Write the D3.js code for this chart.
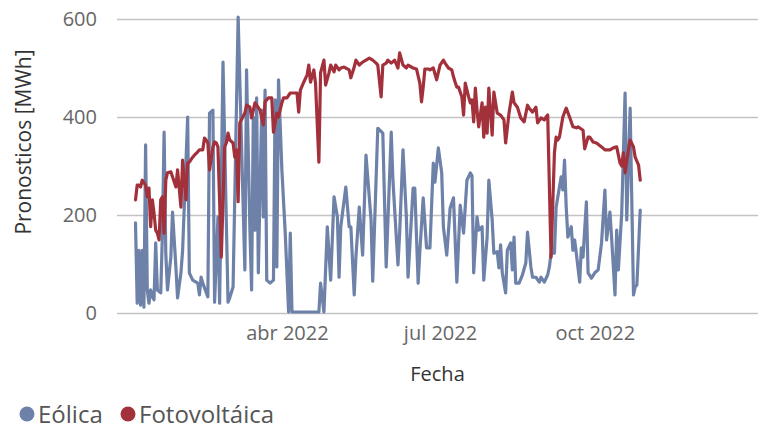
<!DOCTYPE html>
<html>
<head>
<meta charset="utf-8">
<script src="https://cdn.jsdelivr.net/npm/d3@7"></script>
<style>
  body { margin: 0; background: #fff; }
  text { font-family: "Open Sans", "Noto Sans", sans-serif; }
</style>
</head>
<body>
<script>
// dias desde el 1 ene 2022 y pronostico en MWh
var eolicaDia = [0,1,2,3,4,5,6,7,8,9,10,11,12,13,15,16,17,18,19,21,22,24,25,27,28,31,32,34,37,38,39,40,43,44,46,47,49,50,52,55,56,58,61,65,66,68,69,70,71,72,73,75,76,77,78,80,82,83,84,85,87,89,91,92,93,98,104,109,110,112,114,116,118,120,121,122,125,127,128,130,131,133,135,137,140,141,144,147,149,152,153,156,157,159,161,162,165,166,168,169,171,173,175,177,178,180,182,183,185,187,189,191,193,195,197,199,200,201,203,204,206,207,209,210,212,213,215,216,217,218,220,221,223,224,225,226,228,230,232,233,235,236,238,240,241,243,245,246,247,249,250,253,254,255,256,257,259,260,261,262,264,265,266,268,269,271,273,275,277,279,280,282,283,285,286,287,289,291,292,294,296,297,298,300];
var eolicaMWh = [184,20,128,16,128,12,343,47,20,47,33,27,143,47,41,163,369,122,47,114,206,94,31,82,128,400,82,67,61,37,73,61,33,408,414,22,196,20,512,22,31,53,604,88,496,169,47,400,169,439,82,414,196,455,67,61,67,435,94,476,292,163,2,163,2,2,2,2,61,2,176,67,237,196,73,176,257,176,176,37,114,216,118,322,190,65,377,367,94,369,271,98,163,333,196,73,255,255,61,125,235,133,133,306,267,337,286,176,118,214,235,63,220,163,271,286,280,82,196,169,176,67,155,271,190,122,125,92,139,82,41,128,143,88,155,61,61,78,102,165,94,73,73,63,73,63,78,94,122,122,216,278,251,312,216,155,176,128,149,122,63,133,114,227,82,71,82,88,143,251,149,206,153,37,169,88,204,449,190,418,37,53,57,210];

var fotoDia = [0,1,2,3,4,6,7,8,9,10,11,12,13,14,15,16,17,18,19,21,22,24,25,27,28,30,31,32,34,35,37,38,40,41,42,43,44,46,47,48,49,51,53,54,55,56,58,59,60,61,62,65,66,68,69,71,72,74,76,77,79,81,82,84,85,87,88,90,92,94,96,97,98,100,102,103,104,106,107,109,110,112,113,115,116,118,119,121,122,124,127,128,130,131,133,135,137,139,141,143,144,146,147,149,150,152,154,156,157,159,161,162,165,167,169,170,171,172,174,175,177,179,181,183,184,186,188,189,190,191,192,194,195,196,198,199,200,201,202,203,204,206,207,208,209,210,212,213,215,217,219,220,222,224,225,227,229,231,233,234,236,238,239,241,243,244,245,247,249,250,251,252,254,256,258,260,262,263,266,267,269,270,272,274,277,279,282,284,286,288,289,290,291,293,294,296,297,299,300];
var fotoMWh = [231,261,261,257,271,261,237,255,176,231,204,169,163,149,231,237,163,271,286,288,278,257,292,216,312,231,306,308,318,322,329,333,333,357,353,347,292,339,349,347,339,114,339,347,367,353,347,318,333,227,388,408,424,420,398,429,424,414,384,431,439,439,369,408,400,429,439,439,449,449,449,410,455,471,486,506,471,496,469,308,490,516,465,490,506,492,506,496,500,502,496,480,502,516,506,512,516,520,516,510,506,441,506,510,516,510,516,500,531,506,500,506,500,498,469,431,461,498,498,496,500,476,506,516,510,500,496,482,471,461,461,441,404,469,441,429,435,390,459,414,380,429,359,420,367,459,363,451,408,404,394,347,408,451,429,420,398,390,424,418,410,420,388,398,394,400,404,114,327,359,353,359,400,418,400,380,378,380,373,335,359,359,349,347,339,333,333,337,339,306,300,327,286,333,353,339,318,302,271];

var yTicks = [0, 200, 400, 600];
var xTicks = ["2022-04-01", "2022-07-01", "2022-10-01"];
var xTickLabels = ["abr 2022", "jul 2022", "oct 2022"];
var xRango = ["2021-12-21", "2023-01-06"];
var series = ["Eólica", "Fotovoltáica"];
var colores = ["#6d81a9", "#a3313c"];

var width = 768;
var height = 433;
var margin = { top: 19, left: 117, right: 10, bottom: 120 };

var parse = d3.timeParse("%Y-%m-%d");
var inicio = new Date(2022, 0, 1);

var svg = d3.select("body")
  .append("svg")
  .attr("width", width)
  .attr("height", height);

var xScale = d3.scaleTime()
  .domain(xRango.map(parse))
  .range([margin.left, width - margin.right]);

var yScale = d3.scaleLinear()
  .domain([0, 600])
  .range([height - margin.bottom, margin.top]);

// lineas de cuadricula horizontales con etiquetas
var yAxis = svg.append("g")
  .attr("transform", `translate(${margin.left},0)`)
  .call(d3.axisLeft(yScale).tickValues(yTicks)
    .tickSize(-(width - margin.left - margin.right)).tickPadding(20));
yAxis.select(".domain").remove();
yAxis.selectAll(".tick line").attr("stroke", "#c3c3c3").attr("stroke-width", 1.5);
yAxis.selectAll(".tick text").attr("fill", "#666").style("font-size", "20px");

var xAxis = svg.append("g")
  .attr("transform", `translate(0,${height - margin.bottom})`)
  .call(d3.axisBottom(xScale).tickValues(xTicks.map(parse))
    .tickSize(0).tickPadding(13)
    .tickFormat(function(d, i) { return xTickLabels[i]; }));
xAxis.select(".domain").remove();
xAxis.selectAll(".tick text").attr("fill", "#666").style("font-size", "20px");

svg.append("text") // titulo eje x
  .attr("x", (margin.left + width - margin.right) / 2)
  .attr("y", 381)
  .attr("fill", "#333")
  .style("font-size", "20px")
  .style("text-anchor", "middle")
  .text("Fecha");

svg.append("text") // titulo eje y
  .attr("x", -142)
  .attr("y", 31)
  .attr("transform", "rotate(-90)")
  .attr("fill", "#333")
  .style("font-size", "21px")
  .style("text-anchor", "middle")
  .text("Pronosticos [MWh]");

var line = d3.line()
  .x(function(d) { return xScale(d[0]); })
  .y(function(d) { return yScale(d[1]); });

var datos = [
  eolicaDia.map(function(d, i) { return [d3.timeDay.offset(inicio, d), eolicaMWh[i]]; }),
  fotoDia.map(function(d, i) { return [d3.timeDay.offset(inicio, d), fotoMWh[i]]; })
];

datos.forEach(function(serie, i) {
  svg.append("path")
    .datum(serie)
    .attr("d", line)
    .attr("fill", "none")
    .attr("stroke", colores[i])
    .attr("stroke-width", 3.2)
    .attr("stroke-linejoin", "round")
    .attr("stroke-linecap", "round");
});

// leyenda
var legendX = [27, 128];
series.forEach(function(s, i) {
  svg.append("circle")
    .attr("cx", legendX[i])
    .attr("cy", 414)
    .attr("r", 7.5)
    .attr("fill", colores[i]);
  svg.append("text")
    .attr("x", legendX[i] + 11)
    .attr("y", 422.5)
    .attr("fill", "#555")
    .style("font-size", "24px")
    .text(s);
});
</script>
</body>
</html>
